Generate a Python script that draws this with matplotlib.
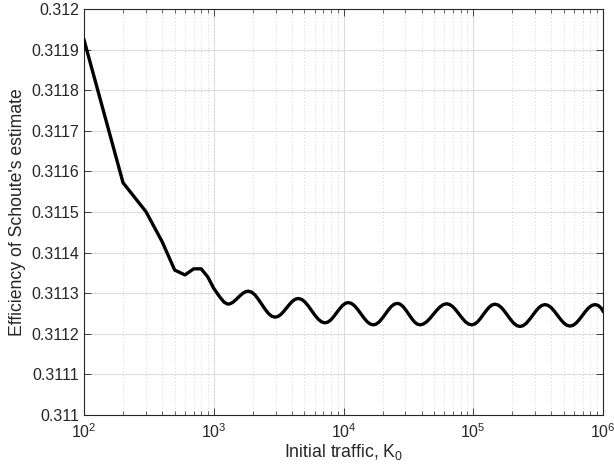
import numpy as np
import matplotlib
matplotlib.use('Agg')
import matplotlib.pyplot as plt
from matplotlib.ticker import FixedLocator, LogLocator, NullFormatter

plt.rcParams['font.family'] = ['Liberation Sans', 'DejaVu Sans']
plt.rcParams['mathtext.fontset'] = 'custom'
plt.rcParams['mathtext.rm'] = 'Liberation Sans'
plt.rcParams['mathtext.it'] = 'Liberation Sans:italic'
plt.rcParams['mathtext.default'] = 'regular'

# Efficiency of Schoute's estimate vs initial traffic K0
K0 = [100, 200, 300, 400, 500, 600, 700, 800, 900, 1000, 1100, 1200,
      1281, 1341, 1404, 1469, 1538, 1610, 1685, 1764,
      1846, 1959, 2079, 2205, 2340, 2483, 2635, 2795,
      2966, 3122, 3289, 3463, 3647, 3840, 4043, 4258,
      4483, 4768, 5048, 5355, 5682, 6028, 6397, 6787,
      7201, 7584, 7986, 8410, 8856, 9326, 9820, 10342,
      10890, 11511, 12168, 12862, 13595, 14372, 15190, 16055,
      16971, 17898, 18876, 19907, 20999, 22146, 23357, 24634,
      25978, 27322, 28736, 30213, 31776, 33419, 35149, 36958,
      38868, 41237, 43762, 46435, 49262, 52264, 55462, 58845,
      62434, 65993, 69752, 73728, 77932, 82380, 87074, 92030,
      97270, 102450, 107870, 113600, 119620, 125980, 132650, 139700,
      147100, 155490, 164370, 173740, 183660, 194080, 205180, 216870,
      229260, 242320, 256160, 270760, 286230, 302470, 319740, 337990,
      357270, 377650, 399220, 422000, 446080, 471420, 498330, 526750,
      556820, 588600, 622190, 657520, 695060, 734690, 776620, 820700,
      867570, 917200, 969400, 1000000]
efficiency = [0.311924, 0.311572, 0.311501, 0.311427, 0.311357, 0.311345, 0.311360,
              0.311360, 0.311340, 0.311312, 0.311293, 0.311278,
              0.311273, 0.3112742, 0.3112777, 0.3112829, 0.311289, 0.3112951, 0.3113003, 0.3113038,
              0.311305, 0.3113026, 0.3112957, 0.3112852, 0.311273, 0.3112608, 0.3112503, 0.3112434,
              0.311241, 0.3112427, 0.3112477, 0.3112552, 0.311264, 0.3112728, 0.3112803, 0.3112853,
              0.311287, 0.3112847, 0.3112782, 0.3112685, 0.311257, 0.3112455, 0.3112358, 0.3112293,
              0.311227, 0.3112289, 0.3112343, 0.3112425, 0.311252, 0.3112615, 0.3112697, 0.3112751,
              0.311277, 0.3112749, 0.311269, 0.311260, 0.3112495, 0.311239, 0.311230, 0.3112241,
              0.311222, 0.311224, 0.3112297, 0.3112384, 0.3112485, 0.3112586, 0.3112673, 0.311273,
              0.311275, 0.311273, 0.3112673, 0.3112586, 0.3112485, 0.3112384, 0.3112297, 0.311224,
              0.311222, 0.311224, 0.3112296, 0.3112381, 0.311248, 0.3112579, 0.3112664, 0.311272,
              0.311274, 0.311272, 0.3112664, 0.3112579, 0.311248, 0.3112381, 0.3112296, 0.311224,
              0.311222, 0.3112239, 0.3112294, 0.3112378, 0.3112475, 0.3112572, 0.3112656, 0.3112711,
              0.311273, 0.3112709, 0.311265, 0.311256, 0.3112455, 0.311235, 0.311226, 0.3112201,
              0.311218, 0.3112201, 0.3112259, 0.3112347, 0.311245, 0.3112553, 0.3112641, 0.3112699,
              0.311272, 0.311270, 0.3112643, 0.3112556, 0.3112455, 0.3112354, 0.3112267, 0.311221,
              0.311219, 0.311221, 0.3112267, 0.3112354, 0.3112455, 0.3112556, 0.3112643, 0.311270,
              0.311272, 0.311270, 0.311263, 0.311256]

yticks = [0.311, 0.3111, 0.3112, 0.3113, 0.3114, 0.3115, 0.3116, 0.3117, 0.3118, 0.3119, 0.312]
ytick_labels = ['0.311', '0.3111', '0.3112', '0.3113', '0.3114', '0.3115',
                '0.3116', '0.3117', '0.3118', '0.3119', '0.312']
xticks = [1e2, 1e3, 1e4, 1e5, 1e6]
xtick_labels = ['$10^{2}$', '$10^{3}$', '$10^{4}$', '$10^{5}$', '$10^{6}$']

axcol = '#262626'
fig = plt.figure(figsize=(6.14, 4.76), dpi=100)
ax = fig.add_axes([84 / 614, 1 - 415 / 476, (603 - 84) / 614, (415 - 9) / 476])

ax.plot(K0, efficiency, color='black', linewidth=2.4, zorder=3,
        solid_joinstyle='round')

ax.set_xscale('log')
ax.set_xlim(1e2, 1e6)
ax.set_ylim(0.311, 0.312)
ax.xaxis.set_major_locator(FixedLocator(xticks))
ax.set_xticklabels(xtick_labels)
ax.xaxis.set_minor_locator(LogLocator(base=10, subs=np.arange(2, 10)))
ax.xaxis.set_minor_formatter(NullFormatter())
ax.yaxis.set_major_locator(FixedLocator(yticks))
ax.set_yticklabels(ytick_labels)

ax.grid(True, which='major', color='#dcdcdc', linewidth=0.8, linestyle='-', zorder=0)
ax.grid(True, which='minor', axis='x', color='#c4c4c4', linewidth=0.6,
        linestyle=(0, (1, 3)), zorder=0)
ax.set_axisbelow(True)

ax.tick_params(which='both', direction='in', top=True, right=True, colors=axcol,
               labelsize=11.5, labelcolor=axcol)
ax.tick_params(which='major', length=5, width=0.6)
ax.tick_params(which='minor', length=3, width=0.5)
ax.tick_params(axis='x', pad=5)
for s in ax.spines.values():
    s.set_color(axcol)
    s.set_linewidth(0.8)

ax.set_xlabel('Initial traffic, K$_0$', fontsize=12.7, color=axcol, labelpad=1)
ax.set_ylabel("Efficiency of Schoute's estimate", fontsize=12.7, color=axcol, labelpad=4)

fig.savefig('out.png', dpi=100)
